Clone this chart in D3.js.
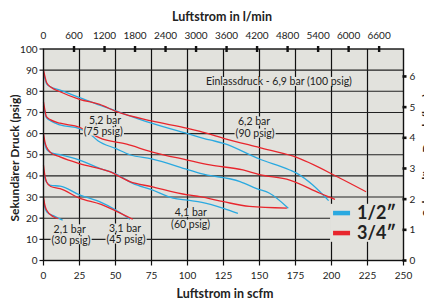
<!DOCTYPE html>
<html>
<head>
<meta charset="utf-8">
<script src="https://cdn.jsdelivr.net/npm/d3@7"></script>
<style>
  body { margin: 0; background: #fff; }
  text { font-family: Lato, "Open Sans", sans-serif; fill: #222; }
</style>
</head>
<body>
<div id="chart"></div>
<script>
const WIDTH = 424
const HEIGHT = 302
const LEFT = 43.5, RIGHT = 403.5, TOP = 49, BOTTOM = 260.5
const BG = "#e2e2dd"
const BLUE = "#2aa9e0"
const RED = "#e8262d"

// axis ticks
const scfmTicks = [0, 25, 50, 75, 100, 125, 150, 175, 200, 225, 250]
const psigTicks = [0, 10, 20, 30, 40, 50, 60, 70, 80, 90, 100]
const lminTicks = [0, 600, 1200, 1800, 2400, 3000, 3600, 4200, 4800, 5400, 6000, 6600]
const barTicks = [0, 1, 2, 3, 4, 5, 6]

// curves [scfm, psig] – 1/2" (blue) and 3/4" (red)
const blue90 = [[0,88.5],[1,86],[2.2,83.5],[5,82],[11.5,80.6],[25,77],[39,73.5],[50.8,70.6],[75,64.9],[100,60],[115.6,57],[125,55.4],[150,48],[171,42.8],[176,41.2],[187,35.7],[198,28.3]]
const red90 = [[0,90],[1,87],[2.2,84],[5,82],[11.5,79.8],[25,76.2],[39,73.8],[50.8,70.4],[75,66],[100,62.5],[108.7,61],[125,57.8],[150,53.4],[173.5,49.3],[206,38.9],[224,32.5]]
const blue75 = [[0,73],[1,70],[2,67.5],[5,66],[11.5,64.1],[25,62.4],[32,60],[38,56.5],[50,53],[60,50],[75,48],[100,43],[108.7,41.2],[136.5,37.3],[148,34],[157,31.8],[170,24.7]]
const red75 = [[0,75],[1,71],[2,68],[5,66.5],[11.5,64.9],[25,63],[32,60.4],[39,58],[57.8,55],[75,51.4],[100,47.5],[115.6,45.2],[138.5,42.8],[150,40.6],[171,38],[192,31.8],[202.4,28.9]]
const blue60 = [[0,58.5],[1,55],[2.2,52.5],[5,51],[11.5,50],[25,47.5],[39,43.6],[50,41],[62,36.5],[75,33.5],[90,29.5],[100,28.5],[110,27.5],[125,24.7],[135,22.3]]
const red60 = [[0,60],[1,56],[2.2,53.5],[5,51],[11.5,49],[25,45.8],[46,42],[60,37.3],[75,34.9],[100,31],[108.7,30.2],[125,27.8],[143,25.6],[169,24.8]]
const blue45 = [[0,43],[1,39],[2.2,37],[5,35.5],[11.5,35.2],[25,31],[40,27.5],[50,24],[60,19.5]]
const red45 = [[0,45],[1,40],[2.2,37],[5,35],[11.5,34],[25,29.5],[40,26.5],[50,23.5],[62,19.5]]
const blue30 = [[0,29],[1,25],[2.2,23],[6.8,21.2],[13.3,19.1]]
const red30 = [[0,30],[1,26],[2,24],[6.8,20.7],[10.3,19.8]]

const series = [
  { color: BLUE, pts: blue90 }, { color: RED, pts: red90 },
  { color: BLUE, pts: blue75 }, { color: RED, pts: red75 },
  { color: BLUE, pts: blue60 }, { color: RED, pts: red60 },
  { color: BLUE, pts: blue45 }, { color: RED, pts: red45 },
  { color: BLUE, pts: blue30 }, { color: RED, pts: red30 },
]

const legendNames = ["1/2\u2033", "3/4\u2033"]

const x = d3.scaleLinear().domain([0, 250]).range([LEFT, RIGHT])
const y = d3.scaleLinear().domain([0, 100]).range([BOTTOM, TOP])
const xL = d3.scaleLinear().domain([0, 250 * 28.3168]).range([LEFT, RIGHT])
const yB = d3.scaleLinear().domain([0, 100 / 14.5038]).range([BOTTOM, TOP])

const svg = d3.select("#chart").append("svg")
  .attr("width", WIDTH)
  .attr("height", HEIGHT)

// plot background + grid
svg.append("rect")
  .attr("x", LEFT).attr("y", TOP)
  .attr("width", RIGHT - LEFT).attr("height", BOTTOM - TOP)
  .attr("fill", BG)

const grid = svg.append("g")
grid.selectAll(".gx").data(scfmTicks.slice(1, -1)).join("line")
  .attr("x1", d => x(d)).attr("x2", d => x(d))
  .attr("y1", TOP).attr("y2", BOTTOM)
  .attr("stroke", "#111").attr("stroke-width", 1.2)
grid.selectAll(".gy").data(psigTicks.slice(1, -1)).join("line")
  .attr("x1", LEFT).attr("x2", RIGHT)
  .attr("y1", d => y(d)).attr("y2", d => y(d))
  .attr("stroke", "#222").attr("stroke-width", 1.1)

// curves
const line = d3.line()
  .x(d => x(d[0]))
  .y(d => y(d[1]))
  .curve(d3.curveMonotoneX)

svg.append("g").selectAll("path").data(series).join("path")
  .attr("d", d => line(d.pts))
  .attr("fill", "none")
  .attr("stroke", d => d.color)
  .attr("stroke-width", 1.3)

// annotations with background boxes
const notes = [
  { t: "Einlassdruck - 6,9 bar (100 psig)", sx: 163.5, py: 84.5 },
  { t: "5,2 bar", sx: 42.7, py: 66.1 }, { t: "(75 psig)", sx: 41.5, py: 61.0 },
  { t: "6,2 bar", sx: 146.2, py: 65.8 }, { t: "(90 psig)", sx: 146.9, py: 60.1 },
  { t: "4,1 bar", sx: 102.3, py: 22.6 }, { t: "(60 psig)", sx: 102.1, py: 17.1 },
  { t: "2,1 bar", sx: 18.2, py: 14.8 }, { t: "(30 psig)", sx: 19.1, py: 9.7 },
  { t: "3,1 bar", sx: 56.6, py: 15.2 }, { t: "(45 psig)", sx: 57.3, py: 10.0 },
]
const noteG = svg.append("g")
notes.forEach(n => {
  const g = noteG.append("g")
  const txt = g.append("text")
    .attr("x", x(n.sx)).attr("y", y(n.py))
    .attr("dy", "0.35em")
    .attr("text-anchor", "middle")
    .attr("font-size", 10.5)
    .attr("fill", "#333")
    .text(n.t)
  const b = txt.node().getBBox()
  g.insert("rect", "text")
    .attr("x", b.x - 1).attr("y", b.y + 1.5)
    .attr("width", b.width + 2).attr("height", b.height - 3)
    .attr("fill", BG)
})

// legend
const leg = svg.append("g").attr("transform", `translate(${x(199)},${y(26.8)})`)
leg.append("rect").attr("width", RIGHT - x(199)).attr("height", 38).attr("fill", BG)
legendNames.forEach((name, i) => {
  leg.append("rect")
    .attr("x", 3).attr("y", 7 + i * 20)
    .attr("width", 17).attr("height", 4.5)
    .attr("fill", i === 0 ? BLUE : RED)
  leg.append("text")
    .attr("x", 27).attr("y", 15 + i * 20)
    .attr("font-size", 18).attr("font-weight", "bold")
    .attr("fill", "#333")
    .text(name)
})

// frame
svg.append("rect")
  .attr("x", LEFT).attr("y", TOP)
  .attr("width", RIGHT - LEFT).attr("height", BOTTOM - TOP)
  .attr("fill", "none").attr("stroke", "#111").attr("stroke-width", 1.4)

// bottom axis (scfm)
const bx = svg.append("g")
bx.selectAll("line").data(scfmTicks).join("line")
  .attr("x1", d => x(d)).attr("x2", d => x(d))
  .attr("y1", BOTTOM).attr("y2", BOTTOM + 5)
  .attr("stroke", "#111").attr("stroke-width", 1.2)
bx.selectAll("text").data(scfmTicks).join("text")
  .attr("x", d => x(d)).attr("y", BOTTOM + 18.5)
  .attr("text-anchor", "middle").attr("font-size", 10)
  .text(d => d)

// left axis (psig)
const ly = svg.append("g")
ly.selectAll("line").data(psigTicks).join("line")
  .attr("x1", LEFT - 4).attr("x2", LEFT)
  .attr("y1", d => y(d)).attr("y2", d => y(d))
  .attr("stroke", "#111").attr("stroke-width", 1.2)
ly.selectAll("text").data(psigTicks).join("text")
  .attr("x", LEFT - 6).attr("y", d => y(d)).attr("dy", "0.35em")
  .attr("text-anchor", "end").attr("font-size", 10)
  .text(d => d)

// top axis (l/min)
const tx = svg.append("g")
tx.selectAll("rect").data(lminTicks.slice(1)).join("rect")
  .attr("x", d => xL(d) - 1.2).attr("y", TOP - 3)
  .attr("width", 2.4).attr("height", 6)
  .attr("fill", "#111")
tx.selectAll("text").data(lminTicks).join("text")
  .attr("x", d => xL(d)).attr("y", TOP - 10.5)
  .attr("text-anchor", "middle").attr("font-size", 10)
  .text(d => d)

// right axis (bar)
const ry = svg.append("g")
ry.selectAll("rect").data(barTicks).join("rect")
  .attr("x", RIGHT - 1).attr("y", d => yB(d) - 1.3)
  .attr("width", 4).attr("height", 2.6)
  .attr("fill", "#111")
ry.selectAll("text").data(barTicks).join("text")
  .attr("x", RIGHT + 6).attr("y", d => yB(d)).attr("dy", "0.35em")
  .attr("font-size", 10)
  .text(d => d)

// titles
svg.append("text")
  .attr("x", 222).attr("y", 21)
  .attr("text-anchor", "middle").attr("font-size", 12.5).attr("font-weight", "bold")
  .text("Luftstrom in l/min")
svg.append("text")
  .attr("x", 225).attr("y", 298)
  .attr("text-anchor", "middle").attr("font-size", 12.5).attr("font-weight", "bold")
  .text("Luftstrom in scfm")
svg.append("text")
  .attr("transform", "translate(18.5,158) rotate(-90)")
  .attr("text-anchor", "middle").attr("font-size", 12).attr("font-weight", "bold")
  .text("Sekundärer Druck (psig)")
// right-hand axis title is clipped by the page edge, as in the source
svg.append("text")
  .attr("transform", "translate(431,155) rotate(-90)")
  .attr("text-anchor", "middle").attr("font-size", 12).attr("font-weight", "bold")
  .text("Sekundärer Druck (bar)")
</script>
</body>
</html>
